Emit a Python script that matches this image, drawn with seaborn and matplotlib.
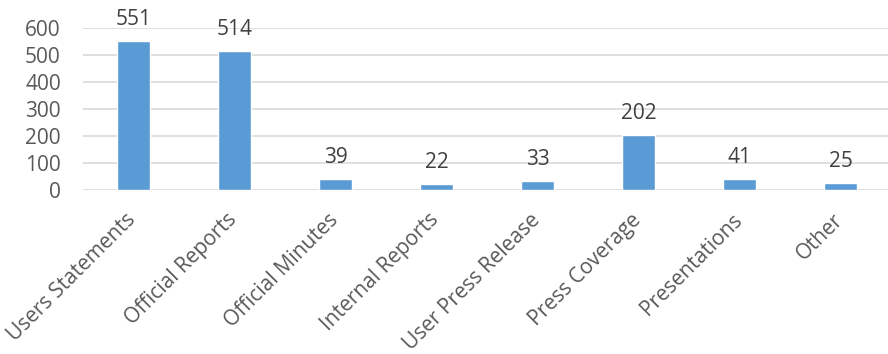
import matplotlib
matplotlib.use("Agg")
import matplotlib.pyplot as plt
import matplotlib.transforms as mtrans
import seaborn as sns
import pandas as pd

categories = ["Users Statements", "Official Reports", "Official Minutes", "Internal Reports",
              "User Press Release", "Press Coverage", "Presentations", "Other"]
values = [551, 514, 39, 22, 33, 202, 41, 25]
yticks = [0, 100, 200, 300, 400, 500, 600]

sns.set_theme(style="white")
plt.rcParams['font.family'] = ['Open Sans', 'DejaVu Sans']

df = pd.DataFrame({"category": categories, "value": values})

fig = plt.figure(figsize=(8.88, 3.54), dpi=100)
ax = fig.add_axes([83/888, (354-190)/354, (891-83)/888, (190-28)/354])

sns.barplot(data=df, x="category", y="value", color="#5B9BD5", width=0.32,
            saturation=1, ax=ax, zorder=3)

ax.set_ylim(0, 600)
ax.set_xlim(-0.5, len(categories) - 0.5)
ax.set_yticks(yticks)
ax.set_yticklabels([str(t) for t in yticks], fontsize=15, color="#595959")
ax.yaxis.grid(True, color="#D9D9D9", linewidth=1.2, zorder=0)
ax.set_axisbelow(True)
for s in ax.spines.values():
    s.set_visible(False)
ax.tick_params(axis="y", length=0, pad=16)
ax.tick_params(axis="x", length=0, pad=14)
ax.set_xlabel("")
ax.set_ylabel("")

ax.set_xticks(range(len(categories)))
ax.set_xticklabels(categories, rotation=45, ha="right", rotation_mode="anchor",
                   fontsize=15, color="#595959")
shift = mtrans.ScaledTranslation(-8/100, 0, fig.dpi_scale_trans)
for lab in ax.get_xticklabels():
    lab.set_transform(lab.get_transform() + shift)

for i, v in enumerate(values):
    ax.annotate(str(v), xy=(i, v), xytext=(0, 8), textcoords="offset points",
                ha="center", va="bottom", fontsize=15, color="#404040")

fig.savefig("out.png", dpi=100)
